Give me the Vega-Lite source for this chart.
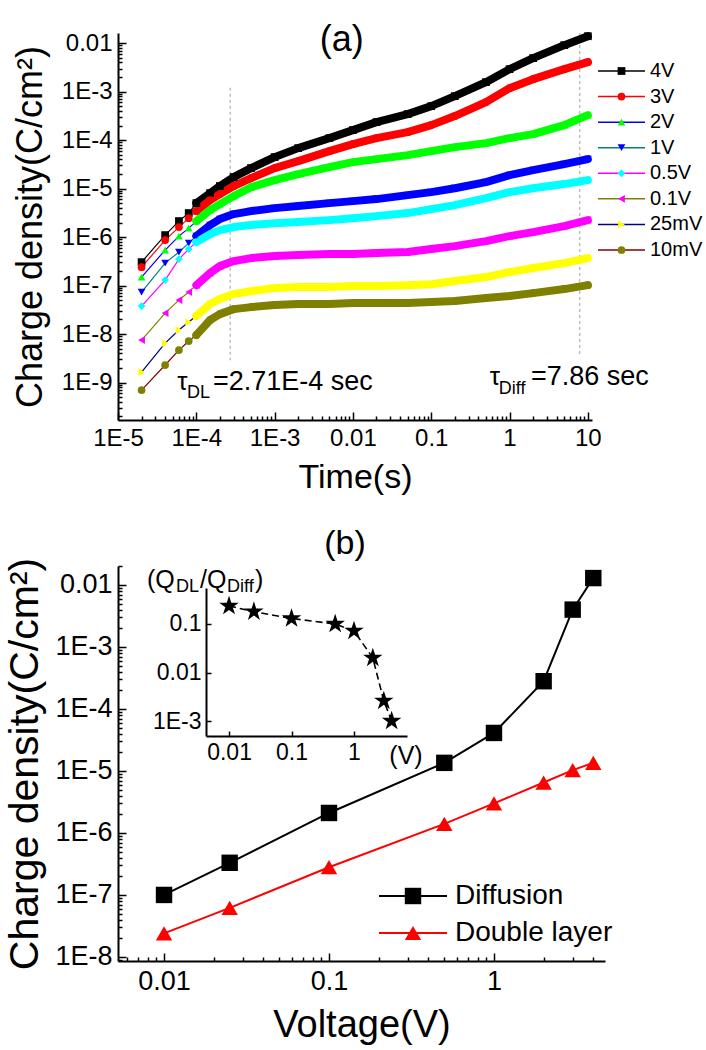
{
  "$schema": "https://vega.github.io/schema/vega-lite/v6.json",
  "padding": {"left": 4, "top": 22, "right": 0, "bottom": 5},
  "spacing": 32,
  "resolve": {"scale": {"color": "independent", "shape": "independent", "stroke": "independent"}},
  "config": {
    "font": "Liberation Sans",
    "view": {"stroke": null},
    "axis": {"grid": false, "domainColor": "#000000", "domainWidth": 2, "tickColor": "#000000", "tickWidth": 1.5, "labelColor": "#000000", "titleColor": "#000000", "labelFont": "Liberation Sans", "titleFont": "Liberation Sans", "titleFontWeight": "normal", "labelFlush": false, "labelOverlap": false, "labelBound": false},
    "text": {"font": "Liberation Sans", "color": "#000000"}
  },
  "datasets": {
    "curves": [
      {"V":"4V","t":2e-5,"q":3.05e-7},{"V":"4V","t":4e-5,"q":1.10e-6},{"V":"4V","t":6e-5,"q":2.14e-6},{"V":"4V","t":8e-5,"q":3.13e-6},{"V":"4V","t":1e-4,"q":5.02e-6},{"V":"4V","t":1.5e-4,"q":8.07e-6},{"V":"4V","t":2e-4,"q":1.13e-5},{"V":"4V","t":3e-4,"q":1.73e-5},{"V":"4V","t":5e-4,"q":2.65e-5},{"V":"4V","t":1e-3,"q":4.46e-5},{"V":"4V","t":2e-3,"q":6.84e-5},{"V":"4V","t":5e-3,"q":1.10e-4},{"V":"4V","t":0.01,"q":1.61e-4},{"V":"4V","t":0.02,"q":2.35e-4},{"V":"4V","t":0.05,"q":3.44e-4},{"V":"4V","t":0.1,"q":5.02e-4},{"V":"4V","t":0.2,"q":8.07e-4},{"V":"4V","t":0.5,"q":1.57e-3},{"V":"4V","t":1,"q":2.91e-3},{"V":"4V","t":2,"q":4.91e-3},{"V":"4V","t":5,"q":9.1e-3},{"V":"4V","t":10,"q":1.39e-2},
      {"V":"3V","t":2e-5,"q":2.40e-7},{"V":"3V","t":4e-5,"q":8.67e-7},{"V":"3V","t":6e-5,"q":1.61e-6},{"V":"3V","t":8e-5,"q":2.46e-6},{"V":"3V","t":1e-4,"q":3.44e-6},{"V":"3V","t":1.5e-4,"q":5.80e-6},{"V":"3V","t":2e-4,"q":7.71e-6},{"V":"3V","t":3e-4,"q":1.13e-5},{"V":"3V","t":5e-4,"q":1.65e-5},{"V":"3V","t":1e-3,"q":2.65e-5},{"V":"3V","t":2e-3,"q":3.69e-5},{"V":"3V","t":5e-3,"q":5.93e-5},{"V":"3V","t":0.01,"q":8.27e-5},{"V":"3V","t":0.02,"q":1.10e-4},{"V":"3V","t":0.05,"q":1.46e-4},{"V":"3V","t":0.1,"q":2.04e-4},{"V":"3V","t":0.2,"q":3.13e-4},{"V":"3V","t":0.5,"q":6.08e-4},{"V":"3V","t":1,"q":1.18e-3},{"V":"3V","t":2,"q":1.81e-3},{"V":"3V","t":5,"q":2.91e-3},{"V":"3V","t":10,"q":4.06e-3},
      {"V":"2V","t":2e-5,"q":1.50e-7},{"V":"2V","t":4e-5,"q":5.40e-7},{"V":"2V","t":6e-5,"q":1.05e-6},{"V":"2V","t":8e-5,"q":1.53e-6},{"V":"2V","t":1e-4,"q":2.14e-6},{"V":"2V","t":1.5e-4,"q":3.60e-6},{"V":"2V","t":2e-4,"q":4.79e-6},{"V":"2V","t":3e-4,"q":7.00e-6},{"V":"2V","t":5e-4,"q":1.07e-5},{"V":"2V","t":1e-3,"q":1.50e-5},{"V":"2V","t":2e-3,"q":1.99e-5},{"V":"2V","t":5e-3,"q":2.77e-5},{"V":"2V","t":0.01,"q":3.52e-5},{"V":"2V","t":0.02,"q":4.06e-5},{"V":"2V","t":0.05,"q":4.91e-5},{"V":"2V","t":0.1,"q":5.93e-5},{"V":"2V","t":0.2,"q":7.17e-5},{"V":"2V","t":0.5,"q":8.67e-5},{"V":"2V","t":1,"q":1.10e-4},{"V":"2V","t":2,"q":1.33e-4},{"V":"2V","t":5,"q":2.04e-4},{"V":"2V","t":10,"q":3.27e-4},
      {"V":"1V","t":2e-5,"q":7.35e-8},{"V":"1V","t":4e-5,"q":2.91e-7},{"V":"1V","t":6e-5,"q":4.91e-7},{"V":"1V","t":8e-5,"q":7.52e-7},{"V":"1V","t":1e-4,"q":1.05e-6},{"V":"1V","t":1.5e-4,"q":1.77e-6},{"V":"1V","t":2e-4,"q":2.35e-6},{"V":"1V","t":3e-4,"q":2.98e-6},{"V":"1V","t":5e-4,"q":3.44e-6},{"V":"1V","t":1e-3,"q":3.96e-6},{"V":"1V","t":2e-3,"q":4.36e-6},{"V":"1V","t":5e-3,"q":5.02e-6},{"V":"1V","t":0.01,"q":5.52e-6},{"V":"1V","t":0.02,"q":6.08e-6},{"V":"1V","t":0.05,"q":7.35e-6},{"V":"1V","t":0.1,"q":8.47e-6},{"V":"1V","t":0.2,"q":1.02e-5},{"V":"1V","t":0.5,"q":1.36e-5},{"V":"1V","t":1,"q":1.90e-5},{"V":"1V","t":2,"q":2.40e-5},{"V":"1V","t":5,"q":3.20e-5},{"V":"1V","t":10,"q":4.06e-5},
      {"V":"0.5V","t":2e-5,"q":3.78e-8},{"V":"0.5V","t":4e-5,"q":1.30e-7},{"V":"0.5V","t":6e-5,"q":3.52e-7},{"V":"0.5V","t":8e-5,"q":5.66e-7},{"V":"0.5V","t":1e-4,"q":7.89e-7},{"V":"0.5V","t":1.5e-4,"q":1.15e-6},{"V":"0.5V","t":2e-4,"q":1.39e-6},{"V":"0.5V","t":3e-4,"q":1.61e-6},{"V":"0.5V","t":5e-4,"q":1.77e-6},{"V":"0.5V","t":1e-3,"q":1.94e-6},{"V":"0.5V","t":2e-3,"q":2.04e-6},{"V":"0.5V","t":5e-3,"q":2.24e-6},{"V":"0.5V","t":0.01,"q":2.46e-6},{"V":"0.5V","t":0.02,"q":2.71e-6},{"V":"0.5V","t":0.05,"q":3.13e-6},{"V":"0.5V","t":0.1,"q":3.78e-6},{"V":"0.5V","t":0.2,"q":4.57e-6},{"V":"0.5V","t":0.5,"q":6.37e-6},{"V":"0.5V","t":1,"q":8.47e-6},{"V":"0.5V","t":2,"q":1.02e-5},{"V":"0.5V","t":5,"q":1.24e-5},{"V":"0.5V","t":10,"q":1.50e-5},
      {"V":"0.1V","t":2e-5,"q":7.52e-9},{"V":"0.1V","t":4e-5,"q":2.71e-8},{"V":"0.1V","t":6e-5,"q":5.02e-8},{"V":"0.1V","t":8e-5,"q":7.35e-8},{"V":"0.1V","t":1e-4,"q":1.02e-7},{"V":"0.1V","t":1.5e-4,"q":1.81e-7},{"V":"0.1V","t":2e-4,"q":2.52e-7},{"V":"0.1V","t":3e-4,"q":3.20e-7},{"V":"0.1V","t":5e-4,"q":3.69e-7},{"V":"0.1V","t":1e-3,"q":4.06e-7},{"V":"0.1V","t":2e-3,"q":4.26e-7},{"V":"0.1V","t":5e-3,"q":4.46e-7},{"V":"0.1V","t":0.01,"q":4.46e-7},{"V":"0.1V","t":0.02,"q":4.68e-7},{"V":"0.1V","t":0.05,"q":4.91e-7},{"V":"0.1V","t":0.1,"q":5.66e-7},{"V":"0.1V","t":0.2,"q":6.52e-7},{"V":"0.1V","t":0.5,"q":8.27e-7},{"V":"0.1V","t":1,"q":1.05e-6},{"V":"0.1V","t":2,"q":1.27e-6},{"V":"0.1V","t":5,"q":1.69e-6},{"V":"0.1V","t":10,"q":2.24e-6},
      {"V":"25mV","t":2e-5,"q":1.64e-9},{"V":"25mV","t":4e-5,"q":6.52e-9},{"V":"25mV","t":6e-5,"q":1.21e-8},{"V":"25mV","t":8e-5,"q":1.77e-8},{"V":"25mV","t":1e-4,"q":2.35e-8},{"V":"25mV","t":1.5e-4,"q":4.16e-8},{"V":"25mV","t":2e-4,"q":5.27e-8},{"V":"25mV","t":3e-4,"q":6.68e-8},{"V":"25mV","t":5e-4,"q":7.71e-8},{"V":"25mV","t":1e-3,"q":8.88e-8},{"V":"25mV","t":2e-3,"q":9.31e-8},{"V":"25mV","t":5e-3,"q":9.31e-8},{"V":"25mV","t":0.01,"q":9.77e-8},{"V":"25mV","t":0.02,"q":9.77e-8},{"V":"25mV","t":0.05,"q":1.02e-7},{"V":"25mV","t":0.1,"q":1.07e-7},{"V":"25mV","t":0.2,"q":1.24e-7},{"V":"25mV","t":0.5,"q":1.50e-7},{"V":"25mV","t":1,"q":1.90e-7},{"V":"25mV","t":2,"q":2.30e-7},{"V":"25mV","t":5,"q":2.91e-7},{"V":"25mV","t":10,"q":3.69e-7},
      {"V":"10mV","t":2e-5,"q":7.0e-10},{"V":"10mV","t":4e-5,"q":2.30e-9},{"V":"10mV","t":6e-5,"q":4.68e-9},{"V":"10mV","t":8e-5,"q":7.17e-9},{"V":"10mV","t":1e-4,"q":9.52e-9},{"V":"10mV","t":1.5e-4,"q":1.95e-8},{"V":"10mV","t":2e-4,"q":2.58e-8},{"V":"10mV","t":3e-4,"q":3.27e-8},{"V":"10mV","t":5e-4,"q":3.60e-8},{"V":"10mV","t":1e-3,"q":3.96e-8},{"V":"10mV","t":2e-3,"q":4.16e-8},{"V":"10mV","t":5e-3,"q":4.16e-8},{"V":"10mV","t":0.01,"q":4.36e-8},{"V":"10mV","t":0.02,"q":4.36e-8},{"V":"10mV","t":0.05,"q":4.36e-8},{"V":"10mV","t":0.1,"q":4.57e-8},{"V":"10mV","t":0.2,"q":4.79e-8},{"V":"10mV","t":0.5,"q":5.52e-8},{"V":"10mV","t":1,"q":6.08e-8},{"V":"10mV","t":2,"q":7.00e-8},{"V":"10mV","t":5,"q":8.47e-8},{"V":"10mV","t":10,"q":1.02e-7}
    ],
    "legendA": [{"V":"4V"},{"V":"3V"},{"V":"2V"},{"V":"1V"},{"V":"0.5V"},{"V":"0.1V"},{"V":"25mV"},{"V":"10mV"}],
    "charge": [
      {"series":"Diffusion","V":0.01,"q":1.0e-7},{"series":"Diffusion","V":0.025,"q":3.3e-7},{"series":"Diffusion","V":0.1,"q":2.1e-6},{"series":"Diffusion","V":0.5,"q":1.35e-5},{"series":"Diffusion","V":1,"q":4.1e-5},{"series":"Diffusion","V":2,"q":2.8e-4},{"series":"Diffusion","V":3,"q":4.0e-3},{"series":"Diffusion","V":4,"q":1.29e-2},
      {"series":"Double layer","V":0.01,"q":2.4e-8},{"series":"Double layer","V":0.025,"q":6.2e-8},{"series":"Double layer","V":0.1,"q":2.8e-7},{"series":"Double layer","V":0.5,"q":1.4e-6},{"series":"Double layer","V":1,"q":3.0e-6},{"series":"Double layer","V":2,"q":6.5e-6},{"series":"Double layer","V":3,"q":1.03e-5},{"series":"Double layer","V":4,"q":1.35e-5}
    ],
    "ratio": [{"V":0.01,"r":0.235},{"V":0.025,"r":0.18},{"V":0.1,"r":0.13},{"V":0.5,"r":0.10},{"V":1,"r":0.072},{"V":2,"r":0.020},{"V":3,"r":2.6e-3},{"V":4,"r":1.0e-3}],
    "legendB": [{"series":"Diffusion"},{"series":"Double layer"}]
  },
  "vconcat": [
    {
      "width": 474,
      "height": 387,
      "layer": [
        {
          "layer": [
            {"data": {"name": "curves"}, "mark": {"type": "line", "strokeWidth": 1.2},
             "encoding": {
               "x": {"field": "t", "type": "quantitative", "scale": {"type": "log", "domain": [1e-5, 11.3], "nice": false},
                 "axis": {"title": "Time(s)", "titleFontSize": 34, "titlePadding": 6, "labelFontSize": 24, "labelPadding": 14,
                   "tickSize": {"condition": {"test": "abs(log(datum.value)/LN10 - round(log(datum.value)/LN10)) < 0.001", "value": -8}, "value": -4},
                   "values": [1e-5,2e-5,3e-5,4e-5,5e-5,6e-5,7e-5,8e-5,9e-5,1e-4,2e-4,3e-4,4e-4,5e-4,6e-4,7e-4,8e-4,9e-4,1e-3,2e-3,3e-3,4e-3,5e-3,6e-3,7e-3,8e-3,9e-3,0.01,0.02,0.03,0.04,0.05,0.06,0.07,0.08,0.09,0.1,0.2,0.3,0.4,0.5,0.6,0.7,0.8,0.9,1,2,3,4,5,6,7,8,9,10],
                   "labelExpr": "abs(log(datum.value)/LN10 - round(log(datum.value)/LN10)) < 0.001 ? (datum.value >= 0.01 ? format(datum.value, '') : '1E' + round(log(datum.value)/LN10)) : ''"}},
               "y": {"field": "q", "type": "quantitative", "scale": {"type": "log", "domain": [1.69e-10, 0.0162], "nice": false},
                 "axis": {"title": "Charge density(C/cm²)", "titleFontSize": 36, "titlePadding": 12, "labelFontSize": 24, "labelPadding": 14,
                   "tickSize": {"condition": {"test": "abs(log(datum.value)/LN10 - round(log(datum.value)/LN10)) < 0.001", "value": -8}, "value": -4},
                   "values": [2e-10,3e-10,4e-10,5e-10,6e-10,7e-10,8e-10,9e-10,1e-9,2e-9,3e-9,4e-9,5e-9,6e-9,7e-9,8e-9,9e-9,1e-8,2e-8,3e-8,4e-8,5e-8,6e-8,7e-8,8e-8,9e-8,1e-7,2e-7,3e-7,4e-7,5e-7,6e-7,7e-7,8e-7,9e-7,1e-6,2e-6,3e-6,4e-6,5e-6,6e-6,7e-6,8e-6,9e-6,1e-5,2e-5,3e-5,4e-5,5e-5,6e-5,7e-5,8e-5,9e-5,1e-4,2e-4,3e-4,4e-4,5e-4,6e-4,7e-4,8e-4,9e-4,1e-3,2e-3,3e-3,4e-3,5e-3,6e-3,7e-3,8e-3,9e-3,0.01],
                   "labelExpr": "abs(log(datum.value)/LN10 - round(log(datum.value)/LN10)) < 0.001 ? (datum.value >= 0.01 ? format(datum.value, '') : '1E' + round(log(datum.value)/LN10)) : ''"}},
               "stroke": {"field": "V", "type": "nominal", "legend": null,
                 "scale": {"domain": ["4V","3V","2V","1V","0.5V","0.1V","25mV","10mV"], "range": ["#000000","#ff0000","#0000ff","#008080","#ff00ff","#808000","#000080","#800000"]}}
             }},
            {"data": {"values": [{}]}, "mark": {"type": "rule", "color": "#bdbdbd", "strokeWidth": 1.5, "strokeDash": [3, 3]},
             "encoding": {"x": {"datum": 2.71e-4}, "y": {"datum": 1.2e-3}, "y2": {"datum": 2.9e-9}}},
            {"data": {"values": [{}]}, "mark": {"type": "rule", "color": "#bdbdbd", "strokeWidth": 1.5, "strokeDash": [3, 3]},
             "encoding": {"x": {"datum": 7.86}, "y": {"datum": 0.0162}, "y2": {"datum": 3.7e-9}}},
            {"data": {"name": "curves"}, "transform": [{"filter": "datum.t >= 1e-4"}],
             "mark": {"type": "line", "strokeWidth": 8, "strokeCap": "round", "strokeJoin": "round"},
             "encoding": {
               "x": {"field": "t", "type": "quantitative"},
               "y": {"field": "q", "type": "quantitative"},
               "color": {"field": "V", "type": "nominal", "legend": null,
                 "scale": {"domain": ["4V","3V","2V","1V","0.5V","0.1V","25mV","10mV"], "range": ["#000000","#ff0000","#00ff00","#0000ff","#00ffff","#ff00ff","#ffff00","#808000"]}}
             }},
            {"data": {"name": "curves"}, "mark": {"type": "point", "filled": true, "opacity": 1, "size": 60},
             "encoding": {
               "x": {"field": "t", "type": "quantitative"},
               "y": {"field": "q", "type": "quantitative"},
               "color": {"field": "V", "type": "nominal", "legend": null},
               "shape": {"field": "V", "type": "nominal", "legend": null,
                 "scale": {"domain": ["4V","3V","2V","1V","0.5V","0.1V","25mV","10mV"], "range": ["square","circle","triangle-up","triangle-down","diamond","triangle-left","triangle-right","circle"]}}
             }},
            {"data": {"values": [{}]}, "mark": {"type": "text", "text": "(a)", "fontSize": 36, "align": "center", "baseline": "middle"},
             "encoding": {"x": {"datum": 7.2e-3}, "y": {"datum": 0.0115}}},
            {"data": {"values": [{}]}, "mark": {"type": "text", "text": "τ", "fontSize": 26, "align": "left", "baseline": "alphabetic"},
             "encoding": {"x": {"datum": 5.7e-5}, "y": {"datum": 7e-10}}},
            {"data": {"values": [{}]}, "mark": {"type": "text", "text": "DL", "fontSize": 18, "align": "left", "baseline": "alphabetic"},
             "encoding": {"x": {"datum": 7.6e-5}, "y": {"datum": 4.8e-10}}},
            {"data": {"values": [{}]}, "mark": {"type": "text", "text": "=2.71E-4 sec", "fontSize": 27, "align": "left", "baseline": "alphabetic"},
             "encoding": {"x": {"datum": 1.63e-4}, "y": {"datum": 7e-10}}},
            {"data": {"values": [{}]}, "mark": {"type": "text", "text": "τ", "fontSize": 26, "align": "left", "baseline": "alphabetic"},
             "encoding": {"x": {"datum": 0.56}, "y": {"datum": 8.9e-10}}},
            {"data": {"values": [{}]}, "mark": {"type": "text", "text": "Diff", "fontSize": 18, "align": "left", "baseline": "alphabetic"},
             "encoding": {"x": {"datum": 0.73}, "y": {"datum": 5.7e-10}}},
            {"data": {"values": [{}]}, "mark": {"type": "text", "text": "=7.86 sec", "fontSize": 27, "align": "left", "baseline": "alphabetic"},
             "encoding": {"x": {"datum": 1.88}, "y": {"datum": 8.9e-10}}}
          ]
        },
        {
          "data": {"name": "legendA"},
          "layer": [
            {"mark": {"type": "rule", "strokeWidth": 1.5},
             "encoding": {
               "y": {"field": "V", "type": "nominal", "axis": null, "scale": {"type": "point", "domain": ["4V","3V","2V","1V","0.5V","0.1V","25mV","10mV"], "range": [38, 217], "padding": 0}},
               "x": {"datum": 0, "axis": null, "scale": {"domain": [0, 1], "range": [480, 527]}},
               "x2": {"datum": 1},
               "stroke": {"field": "V", "type": "nominal", "legend": null}
             }},
            {"mark": {"type": "point", "filled": true, "opacity": 1, "size": 60},
             "encoding": {
               "y": {"field": "V", "type": "nominal", "axis": null},
               "x": {"datum": 0.5, "axis": null},
               "color": {"field": "V", "type": "nominal", "legend": null},
               "shape": {"field": "V", "type": "nominal", "legend": null}
             }},
            {"mark": {"type": "text", "align": "left", "baseline": "middle", "dx": 5, "fontSize": 20},
             "encoding": {
               "y": {"field": "V", "type": "nominal", "axis": null},
               "x": {"datum": 1, "axis": null},
               "text": {"field": "V", "type": "nominal"}
             }}
          ]
        }
      ],
      "resolve": {"scale": {"x": "independent", "y": "independent"}}
    },
    {
      "width": 487,
      "height": 395,
      "layer": [
        {
          "layer": [
            {"data": {"name": "charge"}, "mark": {"type": "line", "strokeWidth": 2},
             "encoding": {
               "x": {"field": "V", "type": "quantitative", "scale": {"type": "log", "domain": [0.00526, 4.71], "nice": false},
                 "axis": {"orient": "bottom", "title": "Voltage(V)", "titleFontSize": 38, "titlePadding": 8, "labelFontSize": 27, "labelPadding": 15,
                   "tickSize": {"condition": {"test": "abs(log(datum.value)/LN10 - round(log(datum.value)/LN10)) < 0.001", "value": -8}, "value": -4},
                   "values": [6e-3,7e-3,8e-3,9e-3,0.01,0.02,0.03,0.04,0.05,0.06,0.07,0.08,0.09,0.1,0.2,0.3,0.4,0.5,0.6,0.7,0.8,0.9,1,2,3,4],
                   "labelExpr": "abs(log(datum.value)/LN10 - round(log(datum.value)/LN10)) < 0.001 ? (datum.value >= 0.01 ? format(datum.value, '') : '1E' + round(log(datum.value)/LN10)) : ''"}},
               "y": {"field": "q", "type": "quantitative", "scale": {"type": "log", "domain": [8.6e-9, 0.0202], "nice": false},
                 "axis": {"orient": "left", "title": "Charge density(C/cm²)", "titleFontSize": 41, "titlePadding": 8, "labelFontSize": 27, "labelPadding": 14,
                   "tickSize": {"condition": {"test": "abs(log(datum.value)/LN10 - round(log(datum.value)/LN10)) < 0.001", "value": -8}, "value": -4},
                   "values": [9e-9,1e-8,2e-8,3e-8,4e-8,5e-8,6e-8,7e-8,8e-8,9e-8,1e-7,2e-7,3e-7,4e-7,5e-7,6e-7,7e-7,8e-7,9e-7,1e-6,2e-6,3e-6,4e-6,5e-6,6e-6,7e-6,8e-6,9e-6,1e-5,2e-5,3e-5,4e-5,5e-5,6e-5,7e-5,8e-5,9e-5,1e-4,2e-4,3e-4,4e-4,5e-4,6e-4,7e-4,8e-4,9e-4,1e-3,2e-3,3e-3,4e-3,5e-3,6e-3,7e-3,8e-3,9e-3,0.01,0.02],
                   "labelExpr": "abs(log(datum.value)/LN10 - round(log(datum.value)/LN10)) < 0.001 ? (datum.value >= 0.01 ? format(datum.value, '') : '1E' + round(log(datum.value)/LN10)) : ''"}},
               "color": {"field": "series", "type": "nominal", "legend": null, "scale": {"domain": ["Diffusion", "Double layer"], "range": ["#000000", "#ff0000"]}}
             }},
            {"data": {"name": "charge"}, "mark": {"type": "point", "filled": true, "opacity": 1, "size": 270},
             "encoding": {
               "x": {"field": "V", "type": "quantitative"},
               "y": {"field": "q", "type": "quantitative"},
               "color": {"field": "series", "type": "nominal", "legend": null},
               "shape": {"field": "series", "type": "nominal", "legend": null, "scale": {"domain": ["Diffusion", "Double layer"], "range": ["square", "triangle-up"]}}
             }},
            {"data": {"values": [{}]}, "mark": {"type": "text", "text": "(b)", "fontSize": 34, "align": "center", "baseline": "middle"},
             "encoding": {"x": {"datum": 0.125}, "y": {"datum": 0.0458}}}
          ]
        },
        {
          "layer": [
            {"data": {"name": "ratio"}, "mark": {"type": "line", "color": "#000000", "strokeWidth": 1.6, "strokeDash": [7, 4]},
             "encoding": {
               "x": {"field": "V", "type": "quantitative", "scale": {"type": "log", "domain": [0.00428, 7.05], "range": [88, 289], "nice": false},
                 "axis": {"orient": "bottom", "offset": -225, "title": null, "labelFontSize": 23, "labelPadding": 10, "tickSize": -5, "values": [0.01, 0.1, 1],
                   "labelExpr": "datum.value >= 0.01 ? format(datum.value, '') : '1E' + round(log(datum.value)/LN10)"}},
               "y": {"field": "r", "type": "quantitative", "scale": {"type": "log", "domain": [4.91e-4, 0.552], "range": [170, 22], "nice": false},
                 "axis": {"orient": "left", "offset": -88, "title": null, "labelFontSize": 23, "labelPadding": 10, "tickSize": -5, "values": [0.001, 0.01, 0.1],
                   "labelExpr": "datum.value >= 0.01 ? format(datum.value, '') : '1E' + round(log(datum.value)/LN10)"}}
             }},
            {"data": {"name": "ratio"}, "mark": {"type": "point", "filled": true, "opacity": 1, "color": "#000000", "size": 420,
               "shape": "M0,-1L0.2245,-0.309L0.951,-0.309L0.363,0.118L0.588,0.809L0,0.382L-0.588,0.809L-0.363,0.118L-0.951,-0.309L-0.2245,-0.309Z"},
             "encoding": {
               "x": {"field": "V", "type": "quantitative"},
               "y": {"field": "r", "type": "quantitative"}
             }},
            {"data": {"values": [{}]}, "mark": {"type": "text", "text": "(Q", "fontSize": 25, "align": "left", "baseline": "alphabetic"},
             "encoding": {"x": {"datum": 4.87e-4}, "y": {"datum": 0.552}}},
            {"data": {"values": [{}]}, "mark": {"type": "text", "text": "DL", "fontSize": 18, "align": "left", "baseline": "alphabetic", "dx": 29, "dy": 4},
             "encoding": {"x": {"datum": 4.87e-4}, "y": {"datum": 0.552}}},
            {"data": {"values": [{}]}, "mark": {"type": "text", "text": "/Q", "fontSize": 25, "align": "left", "baseline": "alphabetic", "dx": 53},
             "encoding": {"x": {"datum": 4.87e-4}, "y": {"datum": 0.552}}},
            {"data": {"values": [{}]}, "mark": {"type": "text", "text": "Diff", "fontSize": 18, "align": "left", "baseline": "alphabetic", "dx": 80, "dy": 4},
             "encoding": {"x": {"datum": 4.87e-4}, "y": {"datum": 0.552}}},
            {"data": {"values": [{}]}, "mark": {"type": "text", "text": ")", "fontSize": 25, "align": "left", "baseline": "alphabetic", "dx": 108},
             "encoding": {"x": {"datum": 4.87e-4}, "y": {"datum": 0.552}}},
            {"data": {"values": [{}]}, "mark": {"type": "text", "text": "(V)", "fontSize": 25, "align": "center", "baseline": "middle"},
             "encoding": {"x": {"datum": 6.79}, "y": {"datum": 1.9e-4}}}
          ]
        },
        {
          "data": {"name": "legendB"},
          "layer": [
            {"mark": {"type": "rule", "strokeWidth": 2},
             "encoding": {
               "y": {"field": "series", "type": "nominal", "axis": null, "scale": {"type": "point", "domain": ["Diffusion", "Double layer"], "range": [330, 367], "padding": 0}},
               "x": {"datum": 0, "axis": null, "scale": {"domain": [0, 1], "range": [261, 329]}},
               "x2": {"datum": 1},
               "color": {"field": "series", "type": "nominal", "legend": null}
             }},
            {"mark": {"type": "point", "filled": true, "opacity": 1, "size": 270},
             "encoding": {
               "y": {"field": "series", "type": "nominal", "axis": null},
               "x": {"datum": 0.5, "axis": null},
               "color": {"field": "series", "type": "nominal", "legend": null},
               "shape": {"field": "series", "type": "nominal", "legend": null}
             }},
            {"mark": {"type": "text", "align": "left", "baseline": "middle", "dx": 8, "fontSize": 28},
             "encoding": {
               "y": {"field": "series", "type": "nominal", "axis": null},
               "x": {"datum": 1, "axis": null},
               "text": {"field": "series", "type": "nominal"}
             }}
          ]
        }
      ],
      "resolve": {"scale": {"x": "independent", "y": "independent"}}
    }
  ]
}
